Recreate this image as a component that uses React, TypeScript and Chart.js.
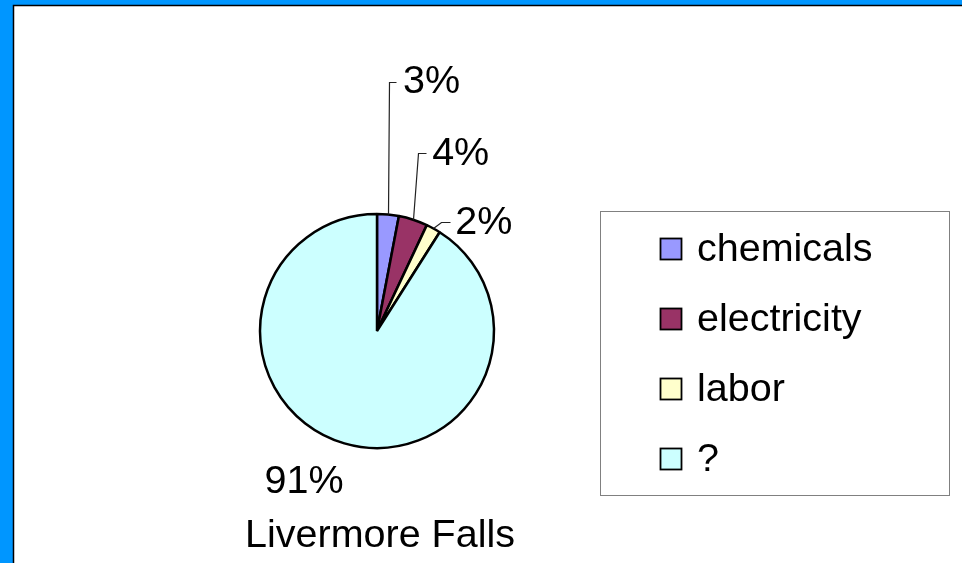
import React, { useEffect, useRef } from "react";
import { Chart, registerables } from "chart.js";

Chart.register(...registerables);

const categories = ["chemicals", "electricity", "labor", "?"];
const values = [3, 4, 2, 91];
const percentLabels = ["3%", "4%", "2%", "91%"];
const colors = ["#9999FF", "#993366", "#FFFFCC", "#CCFFFF"];
const title = "Livermore Falls";

const FONT = "39.5px 'Liberation Sans', Arial, sans-serif";

// label leader geometry per slice: [elbow dx, elbow dy, stub length, text gap] relative to slice anchor
const leaders: (number[] | null)[] = [
  [1, -133, 7, 7],
  [5, -67, 8, 6],
  [8, -6, 9, 5],
  null,
];

const framePlugin = {
  id: "frame",
  beforeDraw(chart: any) {
    const { ctx, width, height } = chart;
    ctx.save();
    ctx.fillStyle = "#0096FF";
    ctx.fillRect(0, 0, width, height);
    ctx.fillStyle = "#FFFFFF";
    ctx.fillRect(13, 5, width - 13, height - 5);
    ctx.strokeStyle = "#000000";
    ctx.lineWidth = 1.5;
    ctx.beginPath();
    ctx.moveTo(13.5, height);
    ctx.lineTo(13.5, 5.5);
    ctx.lineTo(width, 5.5);
    ctx.stroke();
    ctx.restore();
  },
};

const labelPlugin = {
  id: "labels",
  afterDraw(chart: any) {
    const { ctx } = chart;
    const meta = chart.getDatasetMeta(0);
    ctx.save();
    ctx.font = FONT;
    ctx.fillStyle = "#000000";
    ctx.textBaseline = "middle";
    meta.data.forEach((arc: any, i: number) => {
      const { x, y, startAngle, endAngle, outerRadius } = arc.getProps(
        ["x", "y", "startAngle", "endAngle", "outerRadius"],
        true
      );
      const mid = (startAngle + endAngle) / 2;
      const ax = x + Math.cos(mid) * outerRadius;
      const ay = y + Math.sin(mid) * outerRadius;
      const l = leaders[i];
      if (l) {
        const ex = ax + l[0];
        const ey = ay + l[1];
        ctx.strokeStyle = "#222222";
        ctx.lineWidth = 1.2;
        ctx.beginPath();
        ctx.moveTo(Math.round(ax) + 0.5, ay);
        ctx.lineTo(Math.round(ex) + 0.5, Math.round(ey) + 0.5);
        ctx.lineTo(Math.round(ex + l[2]) + 0.5, Math.round(ey) + 0.5);
        ctx.stroke();
        ctx.textAlign = "left";
        ctx.fillText(percentLabels[i], ex + l[2] + l[3], ey + 1);
      } else {
        ctx.textAlign = "center";
        ctx.fillText(percentLabels[i], x - 73, y + outerRadius + 34);
      }
    });
    // title
    const a0 = meta.data[0];
    ctx.textAlign = "center";
    ctx.textBaseline = "alphabetic";
    ctx.fillText(title, a0.x + 3, 547);

    // legend
    const bx = 600.5, by = 211.5, bw = 349, bh = 284;
    ctx.strokeStyle = "#808080";
    ctx.lineWidth = 1;
    ctx.strokeRect(bx, by, bw, bh);
    ctx.textAlign = "left";
    ctx.textBaseline = "middle";
    categories.forEach((c, i) => {
      const cy = 249 + i * 70;
      ctx.fillStyle = colors[i];
      ctx.fillRect(660, cy - 11, 22, 22);
      ctx.strokeStyle = "#000000";
      ctx.lineWidth = 1.8;
      ctx.strokeRect(660.5, cy - 10.5, 21, 21);
      ctx.fillStyle = "#000000";
      ctx.fillText(c, 697, cy + 1);
    });
    ctx.restore();
  },
};

export default function App() {
  const ref = useRef<HTMLCanvasElement | null>(null);
  useEffect(() => {
    if (!ref.current) return;
    const chart = new Chart(ref.current, {
      type: "pie",
      data: {
        labels: categories,
        datasets: [
          {
            data: values,
            backgroundColor: colors,
            borderColor: "#000000",
            borderWidth: 2.5,
          },
        ],
      },
      options: {
        responsive: false,
        animation: false,
        radius: 117,
        layout: { padding: { left: 260, right: 468, top: 214, bottom: 115 } },
        plugins: {
          legend: { display: false },
          tooltip: { enabled: false },
        },
      } as any,
      plugins: [framePlugin, labelPlugin],
    });
    return () => chart.destroy();
  }, []);
  return (
    <div style={{ position: "fixed", left: 0, top: 0, width: 962, height: 563 }}>
      <canvas ref={ref} width={962} height={563} style={{ width: 962, height: 563 }} />
    </div>
  );
}
